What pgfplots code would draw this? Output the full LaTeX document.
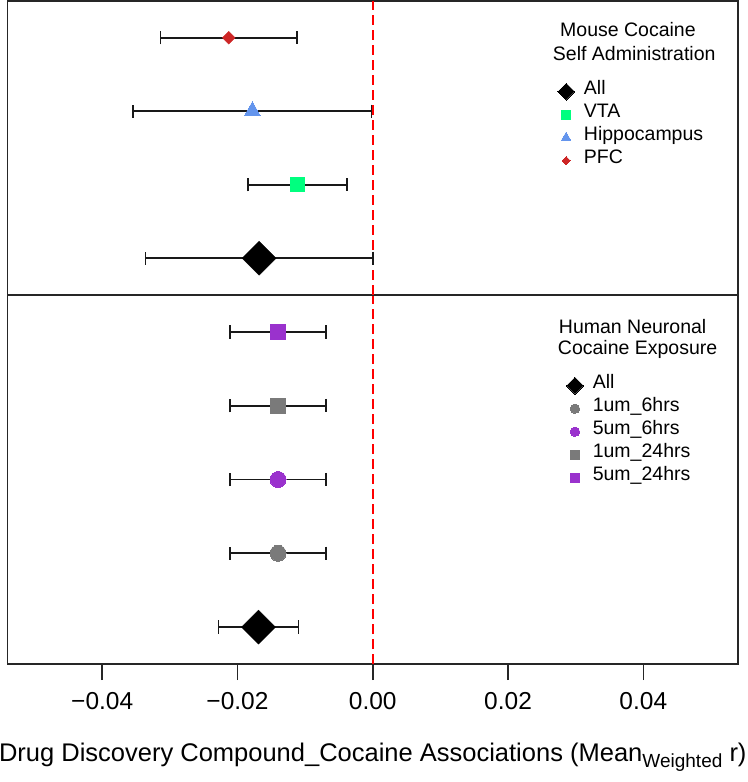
\documentclass[border=0pt]{standalone}
\usepackage{pgfplots}
\pgfplotsset{compat=1.18}
\usepackage{fontspec}
\setmainfont{Liberation Sans}
\definecolor{pfcred}{HTML}{CD2626}
\definecolor{hipblue}{HTML}{6495ED}
\definecolor{vtagreen}{HTML}{00FF7F}
\definecolor{purp}{HTML}{9A32CD}
\definecolor{grayp}{HTML}{7A7A7A}
\begin{document}
\begin{tikzpicture}
\pgfplotsset{
  panel/.style={
    scale only axis, width=730.5pt,
    xmin=-0.054, xmax=0.054,
    ytick=\empty, scaled x ticks=false,
    axis line style={line width=1.6pt, black!85},
    clip=false,
    legend cell align=left,
    legend style={draw=none, fill=none, anchor=north west,
      font=\fontsize{19.5}{23}\selectfont,
      row sep=0pt,
      nodes={inner sep=0pt, text height=14pt, text depth=9pt},
      /tikz/every odd column/.append style={column sep=9.5pt}},
  },
  mk/.style={only marks, forget plot, color=#1, mark options={line width=0pt, fill=#1, draw=#1}},
  ebars/.style={draw=none, mark=none, forget plot,
    error bars/.cd, x dir=both, x explicit,
    error bar style={line width=1.7pt, black!90, solid},
    error mark options={rotate=90, mark size=6.7pt, line width=1.7pt, black!90}},
}
% ---------------- bottom panel ----------------
\begin{axis}[panel, name=bot, at={(0,0)}, anchor=south west,
  height=369pt, ymin=0.5, ymax=5.5,
  xtick={-0.04,-0.02,0,0.02,0.04},
  xticklabels={−0.04,−0.02,0.00,0.02,0.04},
  xtick pos=left, tick align=outside, major tick length=16pt,
  tick style={line width=1.6pt, black!85},
  xticklabel style={font=\fontsize{24.5}{24.5}\selectfont, inner sep=0pt, anchor=base, yshift=-29pt},
  xlabel={Drug Discovery Compound\_Cocaine Associations (Mean\lower6pt\hbox{\fontsize{19}{19}\selectfont Weighted} r)},
  every axis x label/.style={at={(axis description cs:0.5,0)}, anchor=base, yshift=-97pt, font=\fontsize{25.5}{25.5}\selectfont, inner sep=0pt},
  legend style={at={(rel axis cs:0.761,0.7913)}},
]
\addplot[red, line width=2pt, dash pattern=on 10pt off 5pt, forget plot] coordinates {(0,0.5) (0,5.5)};
% markers
\addplot[mk=black, mark=square*, mark size=12pt, mark options={rotate=45}] coordinates {(-0.0169,1)};
\addplot[mk=grayp, mark=*, mark size=8pt] coordinates {(-0.0140,2)};
\addplot[mk=purp, mark=*, mark size=8pt] coordinates {(-0.0140,3)};
\addplot[mk=grayp, mark=square*, mark size=7.5pt] coordinates {(-0.0140,4)};
\addplot[mk=purp, mark=square*, mark size=7.5pt] coordinates {(-0.0140,5)};
% error bars
\addplot[ebars] coordinates {
  (-0.0169,1) +- (0.0059,0)
  (-0.0140,2) +- (0.0071,0)
  (-0.0140,3) +- (0.0071,0)
  (-0.0140,4) +- (0.0071,0)
  (-0.0140,5) +- (0.0071,0)
};
\addlegendimage{only marks, color=black, mark=square*, mark size=5.9pt, mark options={rotate=45, line width=0pt}}
\addlegendentry{All}
\addlegendimage{only marks, color=grayp, mark=*, mark size=4.7pt, mark options={line width=0pt}}
\addlegendentry{1um\_6hrs}
\addlegendimage{only marks, color=purp, mark=*, mark size=4.7pt, mark options={line width=0pt}}
\addlegendentry{5um\_6hrs}
\addlegendimage{only marks, color=grayp, mark=square*, mark size=4.5pt, mark options={line width=0pt}}
\addlegendentry{1um\_24hrs}
\addlegendimage{only marks, color=purp, mark=square*, mark size=4.5pt, mark options={line width=0pt}}
\addlegendentry{5um\_24hrs}
\node[anchor=base west, inner sep=0pt, font=\fontsize{19.5}{23}\selectfont] at (rel axis cs:0.7546,0.897) {Human Neuronal};
\node[anchor=base west, inner sep=0pt, font=\fontsize{19.5}{23}\selectfont] at (rel axis cs:0.7532,0.8374) {Cocaine Exposure};
\end{axis}
% ---------------- top panel ----------------
\begin{axis}[panel, name=top, at={(bot.north west)}, anchor=south west,
  height=294pt, ymin=0.5, ymax=4.5,
  xtick=\empty,
  legend style={at={(rel axis cs:0.7489,0.738)}},
]
\addplot[red, line width=2pt, dash pattern=on 10pt off 5pt, forget plot] coordinates {(0,0.5) (0,4.5)};
\addplot[mk=black, mark=square*, mark size=12pt, mark options={rotate=45}] coordinates {(-0.0168,1)};
\addplot[mk=vtagreen, mark=square*, mark size=7.2pt] coordinates {(-0.0111,2)};
\addplot[mk=hipblue, mark=triangle*, mark size=9.4pt] coordinates {(-0.0178,3)};
\addplot[mk=pfcred, mark=square*, mark size=4.5pt, mark options={rotate=45}] coordinates {(-0.0213,4)};
\addplot[ebars] coordinates {
  (-0.0168,1) +- (0.0168,0)
  (-0.0111,2) +- (0.0073,0)
  (-0.0178,3) +- (0.0176,0)
  (-0.0213,4) +- (0.0101,0)
};
\addlegendimage{only marks, color=black, mark=square*, mark size=5.9pt, mark options={rotate=45, line width=0pt}}
\addlegendentry{All}
\addlegendimage{only marks, color=vtagreen, mark=square*, mark size=4.5pt, mark options={line width=0pt}}
\addlegendentry{VTA}
\addlegendimage{only marks, color=hipblue, mark=triangle*, mark size=5.6pt, mark options={line width=0pt}}
\addlegendentry{Hippocampus}
\addlegendimage{only marks, color=pfcred, mark=square*, mark size=2.9pt, mark options={rotate=45, line width=0pt}}
\addlegendentry{PFC}
\node[anchor=base west, inner sep=0pt, font=\fontsize{19.5}{23}\selectfont] at (rel axis cs:0.7563,0.8776) {Mouse Cocaine};
\node[anchor=base west, inner sep=0pt, font=\fontsize{19.5}{23}\selectfont] at (rel axis cs:0.7464,0.7959) {Self Administration};
\end{axis}
\path (bot.south west) ++(-7.5pt,-118pt) coordinate (BL);
\path (top.north east) ++(9pt,1pt) coordinate (TR);
\pgfresetboundingbox
\path (BL) rectangle (TR);
\end{tikzpicture}
\end{document}
